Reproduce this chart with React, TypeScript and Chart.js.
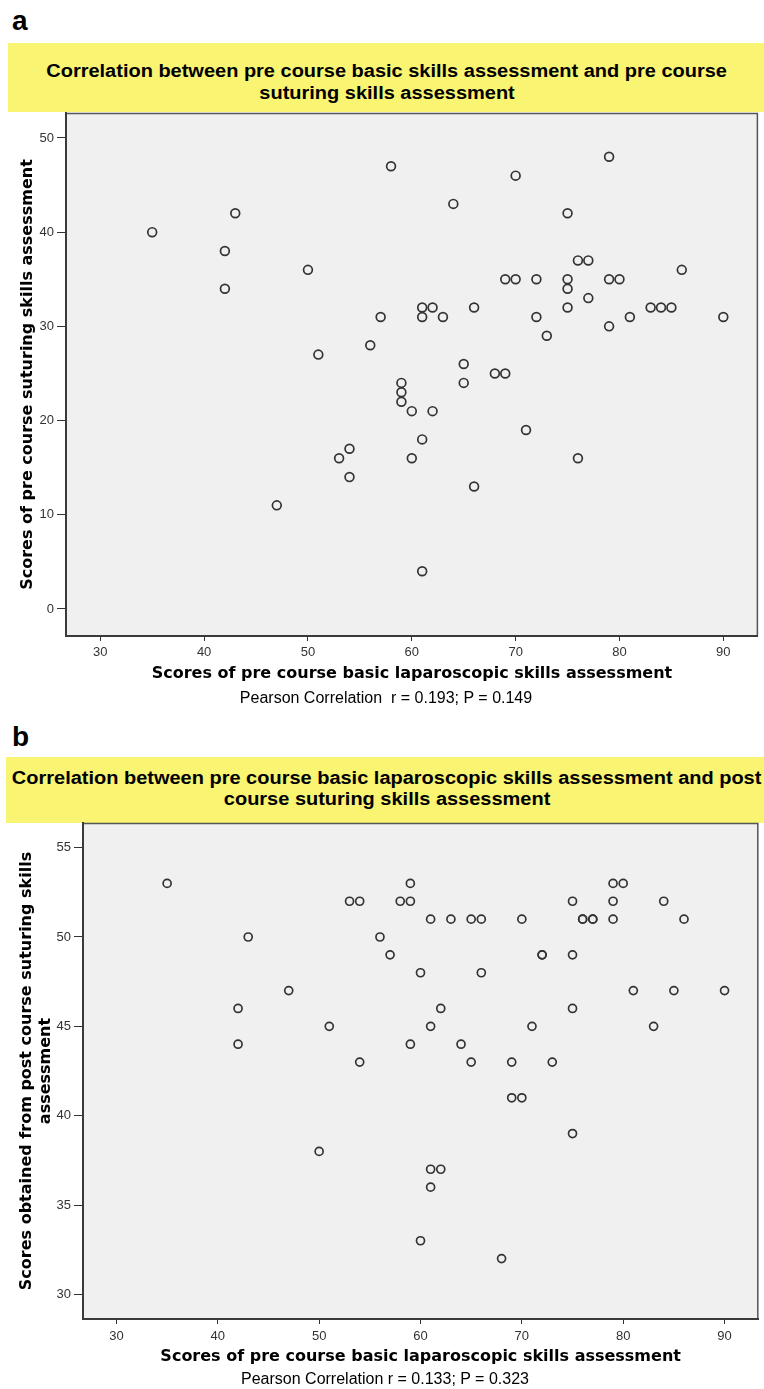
import React, { useEffect, useRef } from "react";
import { Chart, registerables } from "chart.js";

Chart.register(...registerables);

// ---- data ----
const basicScores = [35, 42, 42, 43, 47, 50, 51, 53, 54, 54, 56, 57, 58, 59, 59, 59, 60, 60, 61, 61, 61, 61, 62, 62, 63, 64, 65, 65, 66, 66, 68, 69, 69, 70, 70, 71, 72, 72, 73, 75, 75, 75, 75, 76, 76, 77, 77, 79, 79, 79, 80, 81, 83, 84, 85, 86, 90];
const preSuturing = [40, 38, 34, 42, 11, 36, 27, 16, 17, 14, 28, 31, 47, 24, 23, 22, 21, 16, 32, 31, 18, 4, 32, 21, 31, 43, 26, 24, 32, 13, 25, 25, 35, 46, 35, 19, 35, 31, 29, 42, 35, 34, 32, 37, 16, 37, 33, 48, 35, 30, 35, 31, 32, 32, 32, 36, 31];
const postSuturing = [53, 46, 44, 50, 47, 38, 45, 52, 52, 43, 50, 49, 52, 53, 52, 44, 48, 33, 51, 45, 37, 36, 46, 37, 51, 44, 51, 43, 51, 48, 32, 43, 41, 51, 41, 45, 49, 49, 43, 52, 49, 46, 39, 51, 51, 51, 51, 53, 52, 51, 53, 47, 45, 52, 47, 51, 47];

const xTicks = [30, 40, 50, 60, 70, 80, 90];
const yTicksA = [0, 10, 20, 30, 40, 50];
const yTicksB = [30, 35, 40, 45, 50, 55];

const titleA = ["Correlation between pre course basic skills assessment and pre course", "suturing skills assessment"];
const titleB = ["Correlation between pre course basic laparoscopic skills assessment and post", "course suturing skills assessment"];
const xTitle = "Scores of pre course basic laparoscopic skills assessment";
const yTitleA = "Scores of pre course suturing skills assessment";
const yTitleB = ["Scores obtained from post course suturing skills", "assessment"];
const noteA = "Pearson Correlation  r = 0.193; P = 0.149";
const noteB = "Pearson Correlation r = 0.133; P = 0.323";

const YELLOW = "#f9f472";

const framePlugin = {
  id: "spssFrame",
  beforeDraw(chart: any) {
    const { ctx, chartArea: a } = chart;
    ctx.save();
    ctx.fillStyle = "#f0f0f0";
    ctx.fillRect(a.left, a.top, a.right - a.left, a.bottom - a.top);
    ctx.strokeStyle = "#555";
    ctx.lineWidth = 1.5;
    ctx.beginPath();
    ctx.moveTo(a.left, a.top + 0.5);
    ctx.lineTo(a.right - 0.5, a.top + 0.5);
    ctx.lineTo(a.right - 0.5, a.bottom);
    ctx.stroke();
    ctx.restore();
  },
};

type PanelProps = {
  top: number;
  height: number;
  ys: number[];
  yMin: number;
  yMax: number;
  yTicks: number[];
  yTitle: string | string[];
  yWidth: number;
  yTitlePad: number;
  xHeight: number;
  xTitlePad: number;
  xTickPad: number;
  radius: number;
};

function ScatterPanel(p: PanelProps) {
  const ref = useRef<HTMLCanvasElement | null>(null);
  useEffect(() => {
    if (!ref.current) return;
    const tickFont = { family: "'Liberation Sans', Arial, sans-serif", size: 13 };
    const titleFont = { family: "DejaVu Sans", size: 16, weight: "bold", lineHeight: 1.22 };
    const chart = new Chart(ref.current, {
      type: "scatter",
      data: {
        datasets: [
          {
            data: basicScores.map((x, i) => ({ x, y: p.ys[i] })),
            pointRadius: p.radius,
            pointBorderWidth: 1.7,
            pointBackgroundColor: "rgba(0,0,0,0)",
            pointBorderColor: "#333",
            pointStyle: "circle",
          },
        ],
      },
      options: {
        animation: false,
        responsive: false,
        maintainAspectRatio: false,
        events: [],
        layout: { padding: { top: 13, right: 2, left: 0, bottom: 0 } },
        plugins: { legend: { display: false }, tooltip: { enabled: false } },
        scales: {
          x: {
            type: "linear",
            min: 26.7,
            max: 93.33,
            afterFit: (s: any) => {
              s.height = p.xHeight;
            },
            afterBuildTicks: (s: any) => {
              s.ticks = xTicks.map((v) => ({ value: v }));
            },
            grid: { drawOnChartArea: false, drawTicks: true, tickLength: 5, tickColor: "#333", tickWidth: 1 },
            border: { display: true, color: "#3a3a3a", width: 2 },
            ticks: { color: "#333", font: tickFont, padding: p.xTickPad, maxRotation: 0, autoSkip: false },
            title: {
              display: true,
              text: xTitle,
              color: "#000",
              font: titleFont,
              padding: { top: 0, bottom: p.xTitlePad },
            },
          },
          y: {
            type: "linear",
            min: p.yMin,
            max: p.yMax,
            afterFit: (s: any) => {
              s.width = p.yWidth;
            },
            afterBuildTicks: (s: any) => {
              s.ticks = p.yTicks.map((v) => ({ value: v }));
            },
            grid: { drawOnChartArea: false, drawTicks: true, tickLength: 9, tickColor: "#333", tickWidth: 1 },
            border: { display: true, color: "#3a3a3a", width: 2 },
            ticks: { color: "#333", font: tickFont, padding: 3, autoSkip: false },
            title: {
              display: true,
              text: p.yTitle,
              color: "#000",
              font: titleFont,
              padding: { top: p.yTitlePad, bottom: 0 },
            },
          },
        },
      },
      plugins: [framePlugin],
    } as any);
    return () => chart.destroy();
  }, []);
  return (
    <canvas
      ref={ref}
      width={764}
      height={p.height}
      style={{ position: "absolute", left: 0, top: p.top, width: 764, height: p.height }}
    />
  );
}

function Lines({ lines, top, lh, size, bold, sx, center }: { lines: string[]; top: number; lh: number; size: number; bold: boolean; sx: number; center: number }) {
  return (
    <>
      {lines.map((t, i) => (
        <div
          key={i}
          style={{
            position: "absolute",
            left: center - 400,
            width: 800,
            top: top + i * lh,
            height: lh,
            lineHeight: lh + "px",
            textAlign: "center",
            fontFamily: "'Liberation Sans', Arial, sans-serif",
            fontSize: size,
            fontWeight: bold ? "bold" : "normal",
            color: "#000",
            whiteSpace: "pre",
          }}
        >
          <span style={{ display: "inline-block", transform: `scaleX(${sx})`, transformOrigin: "center" }}>{t}</span>
        </div>
      ))}
    </>
  );
}

export default function App() {
  const label = (t: string, top: number, left: number) => (
    <div
      style={{
        position: "absolute",
        left,
        top,
        fontFamily: "'Liberation Sans', Arial, sans-serif",
        fontWeight: "bold",
        fontSize: 28,
        lineHeight: "28px",
        color: "#000",
      }}
    >
      {t}
    </div>
  );
  return (
    <div style={{ position: "absolute", left: 0, top: 0, width: 764, height: 1389, overflow: "hidden", background: "#fff" }}>
      {label("a", 7, 12)}
      <div style={{ position: "absolute", left: 8, top: 43, width: 756, height: 69, background: YELLOW }} />
      <Lines lines={titleA} top={60} lh={22} size={18} bold sx={1.11} center={387} />
      <ScatterPanel
        top={100}
        height={600}
        ys={preSuturing}
        yMin={-2.87}
        yMax={52.65}
        yTicks={yTicksA}
        yTitle={yTitleA}
        yWidth={66}
        yTitlePad={17.75}
        xHeight={64}
        xTitlePad={16.25}
        xTickPad={4}
        radius={4.4}
      />
      <Lines lines={[noteA]} top={689} lh={18} size={16} bold={false} sx={1} center={386} />

      {label("b", 723, 12)}
      <div style={{ position: "absolute", left: 6, top: 757, width: 758, height: 66, background: YELLOW }} />
      <Lines lines={titleB} top={767.5} lh={21} size={18} bold sx={1.11} center={387} />
      <ScatterPanel
        top={810}
        height={575}
        ys={postSuturing}
        yMin={28.62}
        yMax={56.38}
        yTicks={yTicksB}
        yTitle={yTitleB}
        yWidth={83}
        yTitlePad={16.75}
        xHeight={66}
        xTitlePad={18.25}
        xTickPad={5}
        radius={4}
      />
      <Lines lines={[noteB]} top={1370} lh={18} size={16} bold={false} sx={1} center={385} />
    </div>
  );
}
